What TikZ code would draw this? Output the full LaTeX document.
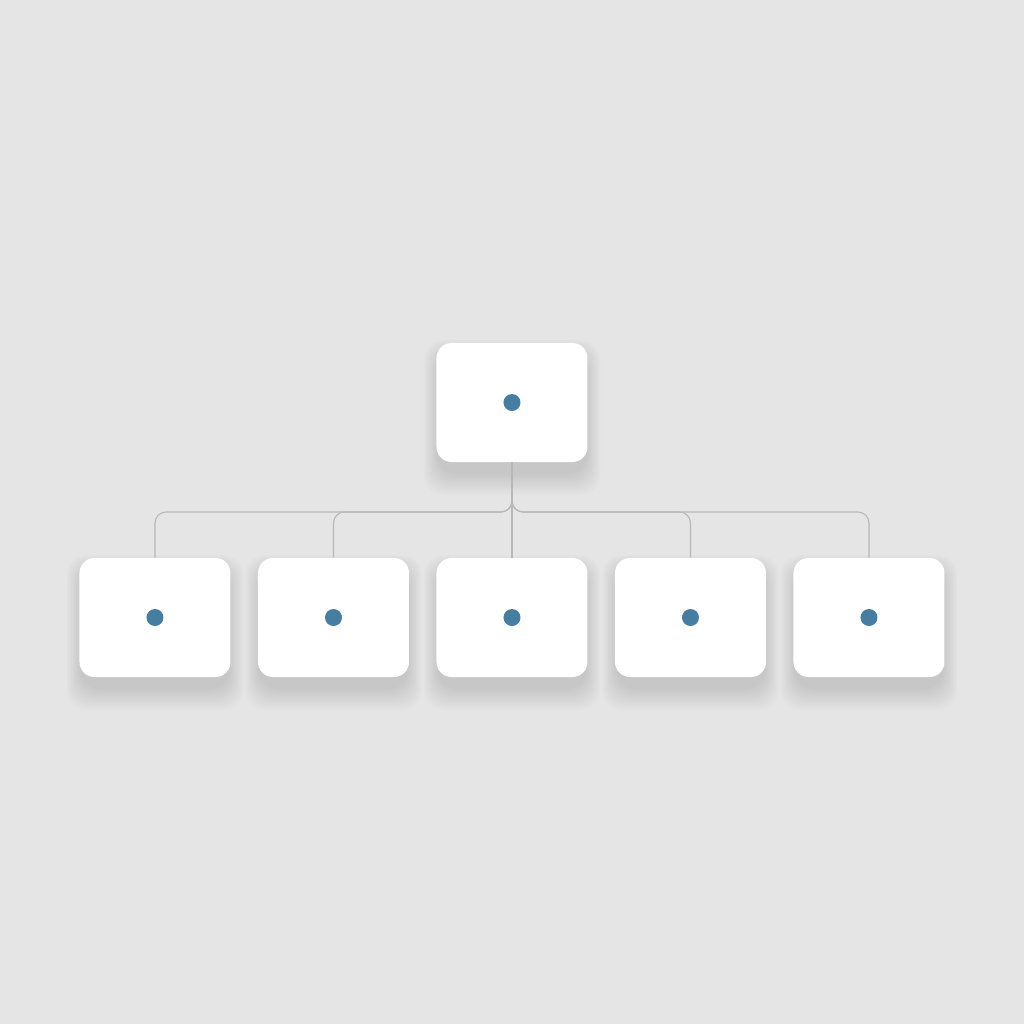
\documentclass[tikz,border=0pt]{standalone}
\usepackage{tikz}
\usetikzlibrary{backgrounds}
\definecolor{bggray}{HTML}{E5E5E5}
\definecolor{dotblue}{HTML}{467EA1}
\definecolor{linegray}{HTML}{B8B8B8}
\tikzset{
  box/.style={minimum width=3.02cm, minimum height=2.38cm, rounded corners=0.3cm, fill=white},
  dot/.style={circle, fill=dotblue, inner sep=0pt, minimum size=0.34cm},
  link/.style={draw=linegray, line width=0.022cm, rounded corners=0.22cm},
  haze/.style={fill=black, opacity=0.012, rounded corners=0.4cm}
}
\begin{document}
\begin{tikzpicture}

\node[box] (root) at (0, 2.19) {};
\node[dot] (root dot) at (root) {};

\node[box] (child a) at (-7.14, -2.11) {};
\node[box] (child b) at (-3.57, -2.11) {};
\node[box] (child c) at (0, -2.11) {};
\node[box] (child d) at (3.57, -2.11) {};
\node[box] (child e) at (7.14, -2.11) {};

\node[dot] (dot a) at (child a) {};
\node[dot] (dot b) at (child b) {};
\node[dot] (dot c) at (child c) {};
\node[dot] (dot d) at (child d) {};
\node[dot] (dot e) at (child e) {};

\coordinate (bus) at (0, 0);

\draw[link] (root.south) -- (bus) -| (child a.north);
\draw[link] (root.south) -- (bus) -| (child b.north);
\draw[link] (root.south) -- (child c.north);
\draw[link] (root.south) -- (bus) -| (child d.north);
\draw[link] (root.south) -- (bus) -| (child e.north);

% soft shadows under the boxes
\begin{scope}[on background layer]
\fill[bggray] (-10.24, -10.24) rectangle (10.24, 10.24);
\foreach \n in {root, child a, child b, child c, child d, child e}
  \foreach \i in {1,...,10}
    \fill[haze] ([shift={(0.05-0.03*\i, -0.2-0.045*\i)}] \n.south west) rectangle ([shift={(-0.05+0.03*\i, -0.25+0.03*\i)}] \n.north east);
\end{scope}

\end{tikzpicture}
\end{document}
